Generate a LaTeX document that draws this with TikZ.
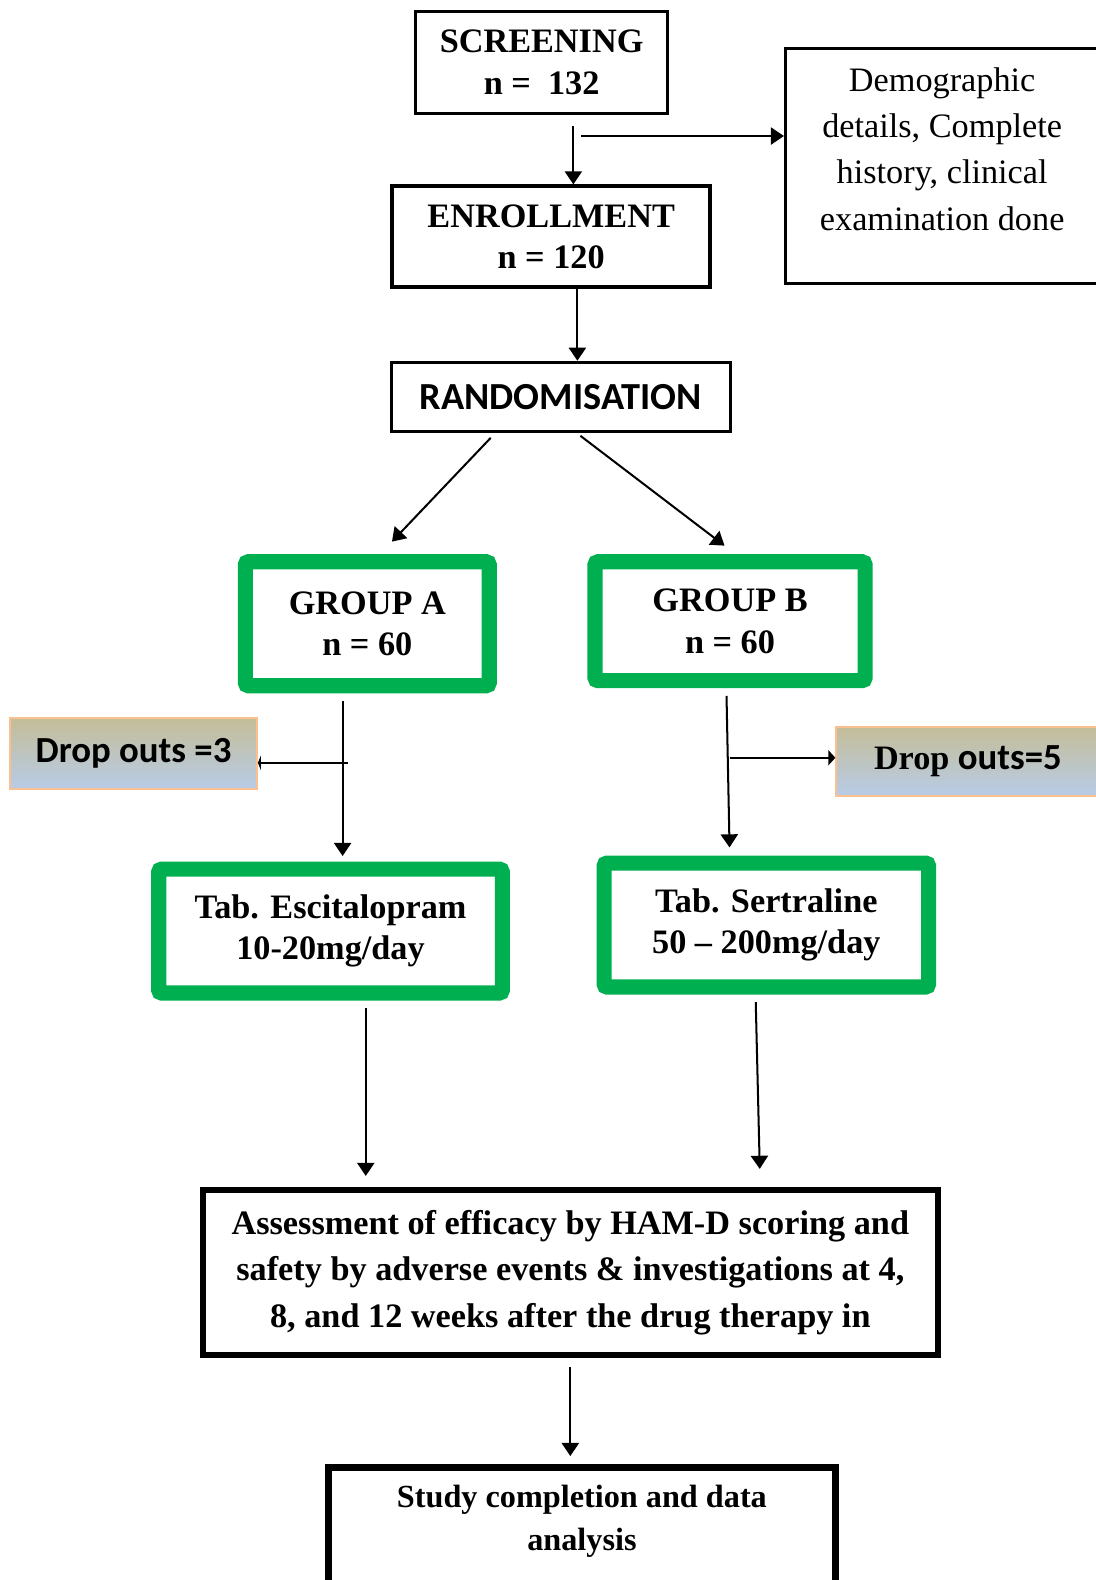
\documentclass[tikz,border=0pt]{standalone}
\usepackage{fontspec}
\setmainfont{Liberation Serif}
\newfontfamily\calibri{Carlito}
\usetikzlibrary{arrows.meta}

\definecolor{boxgreen}{RGB}{0,176,80}
\definecolor{droptop}{RGB}{196,189,151}
\definecolor{dropmid}{RGB}{182,194,206}
\definecolor{dropbot}{RGB}{184,204,232}
\definecolor{dropline}{RGB}{250,192,144}

\newcommand\serifbold{\rmfamily\bfseries\fontsize{34}{41}\selectfont}
\newcommand\sansbold{\calibri\bfseries\fontsize{36.5}{43}\selectfont}

\begin{document}
\begin{tikzpicture}[x=1pt, y=-1pt,
	plain/.style={draw, line width=3pt, inner sep=0pt},
	titled/.style={plain, align=center, font=\serifbold},
	greenbox/.style={draw=boxgreen, line width=15pt, rounded corners=3pt, inner sep=0pt, align=center, minimum height=123pt, font=\serifbold},
	dropbox/.style={draw=dropline, line width=2pt, top color=droptop, middle color=dropmid, bottom color=dropbot, inner sep=0pt, font=\sansbold},
	arr/.style={line width=2pt, -{Triangle[width=17pt,length=13pt]}},
	stubarrow/.style={line width=2pt, -{Triangle[width=15pt,length=7pt]}},
	bararrow/.style={line width=2pt, -{Triangle[width=15pt,length=3pt]}}]
	\path[use as bounding box, fill=white] (0,0) rectangle (1087,1568);

	% top part
	\node[titled, minimum width=250pt, minimum height=101pt] (scr) at (537.5,62) {SCREENING\\n =~ 132};
	\node[titled, line width=4pt, minimum width=316pt, minimum height=100pt] (enr) at (547,235) {ENROLLMENT\\n = 120};
	\node[plain, minimum width=336pt, minimum height=69pt, font=\calibri\bfseries\fontsize{38}{44}\selectfont] (rand) at (556.5,394) {RANDOMISATION};
	\node[plain, font=\rmfamily\fontsize{34}{46}\selectfont] (demo) at (935,165) {\parbox[c][233pt][t]{311pt}{\vspace*{18.5pt}\centering Demographic\\details, Complete\\history, clinical\\examination done}};

	% the two groups
	\node[greenbox, minimum width=242pt] (grpA) at (364.5,619) {GROUP A\\n = 60};
	\node[greenbox, minimum width=268pt, minimum height=118pt] (grpB) at (724.5,616.5) {GROUP B\\n = 60};
	\node[dropbox, minimum width=245pt, minimum height=70pt] (dropA) at (132.5,748) {Drop outs =3};
	\node[dropbox, minimum width=261pt, minimum height=69pt] (dropB) at (960.5,755.5) {{\serifbold Drop} outs=5};
	\node[greenbox, minimum width=341pt] (tabA) at (328,924) {Tab. Escitalopram~\\10-20mg/day};
	\node[greenbox, minimum width=322pt] (tabB) at (760.5,918) {Tab. Sertraline\\50 – 200mg/day};

	% follow up
	\node[titled, line width=6pt, minimum width=730pt, minimum height=164pt, font=\rmfamily\bfseries\fontsize{34}{46}\selectfont] (assess) at (566,1263) {Assessment of efficacy by HAM-D scoring and\\safety by adverse events \& investigations at 4,\\8, and 12 weeks after the drug therapy in};
	\node[plain, line width=6.5pt, anchor=north, font=\rmfamily\bfseries\fontsize{32}{42}\selectfont] (study) at (577.5,1453) {\parbox[c][200pt][t]{503pt}{\vspace*{18pt}\centering Study completion and data\\analysis}};

	\coordinate (split) at (577,135);
	\coordinate (dropA-in) at (345,757);
	\coordinate (dropB-out) at (724,752);

	\draw[arr] ([xshift=31.5pt,yshift=-11.5pt]scr.south) -- ([xshift=22pt]enr.north);
	\draw[arr] (split) -- (split -| demo.west);
	\draw[arr] ([xshift=26pt]enr.south) -- ([xshift=16.5pt]rand.north);
	\draw[arr] ([xshift=-69.5pt,yshift=-4.5pt]rand.south) -- ([xshift=24.5pt,yshift=12.5pt]grpA.north);
	\draw[arr] ([xshift=19.5pt,yshift=-2.5pt]rand.south) -- ([xshift=-5.5pt,yshift=8.5pt]grpB.north);
	\draw[arr] ([xshift=-24.5pt,yshift=-7.5pt]grpA.south) -- ([xshift=12pt,yshift=5.5pt]tabA.north);
	\draw[bararrow] (dropA-in) -- (dropA-in -| dropA.east);
	\draw[arr] ([xshift=-3.5pt,yshift=-7.5pt]grpB.south) -- ([xshift=-36.5pt,yshift=8pt]tabB.north);
	\draw[stubarrow] (dropB-out) -- (dropB-out -| dropB.west);
	\draw[arr] ([xshift=35pt,yshift=-7.5pt]tabA.south) -- ([xshift=-203pt,yshift=11pt]assess.north);
	\draw[arr] ([xshift=-10.5pt,yshift=-7.5pt]tabB.south) -- ([xshift=188pt,yshift=18pt]assess.north);
	\draw[arr] ([yshift=-9pt]assess.south) -- ([xshift=-11.5pt,yshift=8pt]study.north);
\end{tikzpicture}
\end{document}
